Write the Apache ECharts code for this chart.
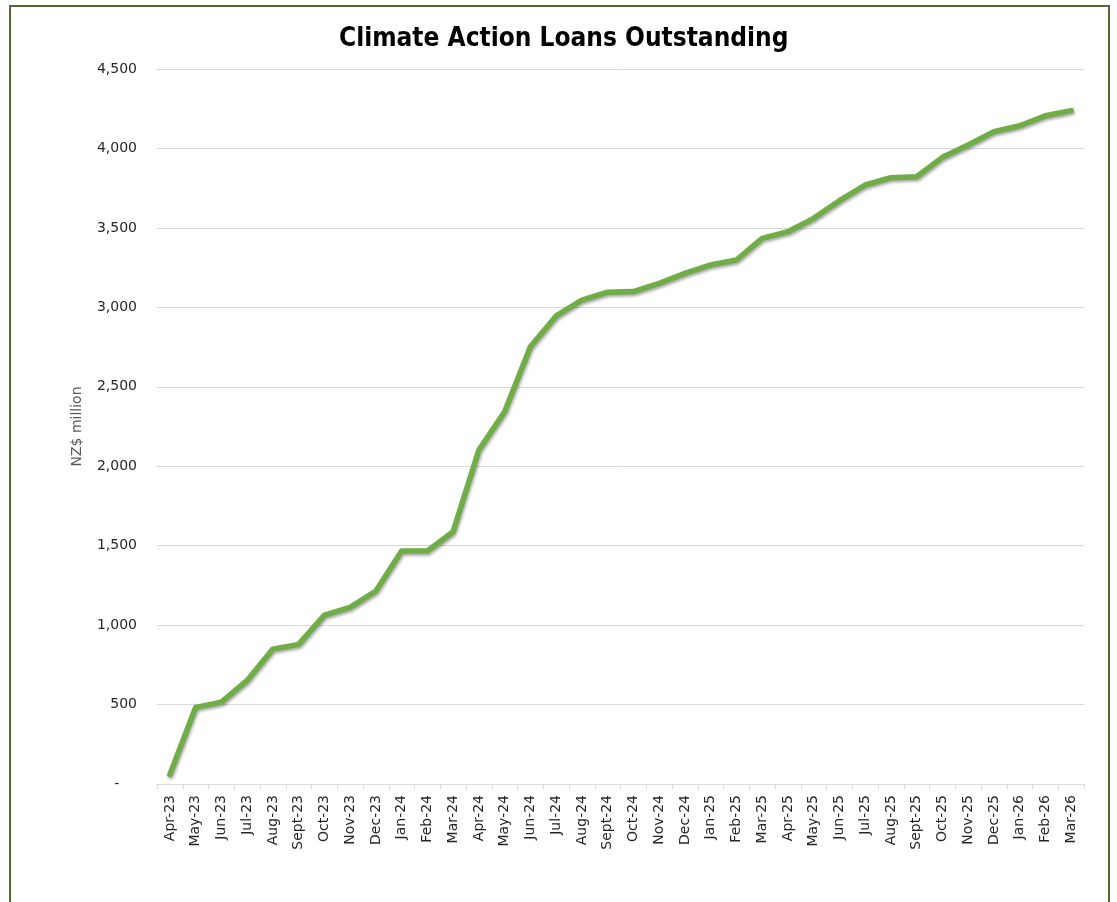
<!DOCTYPE html>
<html>
<head>
<meta charset="utf-8">
<script src="https://cdn.jsdelivr.net/npm/echarts@6/dist/echarts.min.js"></script>
<style>
  html, body { margin: 0; padding: 0; background: #ffffff; }
  #frame { position: absolute; left: 9px; top: 5px; width: 1101px; height: 910px;
           border-left: 2px solid #4f6b2f; border-top: 2px solid #4f6b2f; border-right: 2px solid #4f6b2f; box-sizing: border-box; }
  #chart { position: absolute; left: 0; top: 0; width: 1117px; height: 902px; }
</style>
</head>
<body>
<div id="frame"></div>
<div id="chart"></div>
<script>
const categories = ["Apr-23","May-23","Jun-23","Jul-23","Aug-23","Sept-23","Oct-23","Nov-23","Dec-23",
  "Jan-24","Feb-24","Mar-24","Apr-24","May-24","Jun-24","Jul-24","Aug-24","Sept-24","Oct-24","Nov-24","Dec-24",
  "Jan-25","Feb-25","Mar-25","Apr-25","May-25","Jun-25","Jul-25","Aug-25","Sept-25","Oct-25","Nov-25","Dec-25",
  "Jan-26","Feb-26","Mar-26"];
const loansOutstanding = [60, 482, 515, 652, 849, 879, 1063, 1112, 1215,
  1466, 1466, 1588, 2102, 2343, 2752, 2946, 3046, 3095, 3099, 3151, 3214,
  3267, 3298, 3434, 3476, 3560, 3671, 3770, 3816, 3822, 3944, 4022, 4106,
  4143, 4206, 4238];
const yTicks = { min: 0, max: 4500, interval: 500 };
const titleText = "Climate Action Loans Outstanding";
const yAxisName = "NZ$ million";

const chart = echarts.init(document.getElementById('chart'), null, { renderer: 'canvas' });
chart.setOption({
  animation: false,
  backgroundColor: 'transparent',
  title: {
    text: titleText,
    left: 334,
    top: 21,
    textStyle: { fontFamily: 'DejaVu Sans Condensed', fontWeight: 'bold', fontSize: 26, color: '#000000' }
  },
  grid: { left: 157, right: 33, top: 69, bottom: 118 },
  xAxis: {
    type: 'category',
    data: categories,
    boundaryGap: true,
    axisLine: { show: true, lineStyle: { color: '#d9d9d9', width: 1 } },
    axisTick: { show: true, alignWithLabel: false, length: 5, lineStyle: { color: '#d9d9d9' } },
    axisLabel: { rotate: 90, margin: 11, fontFamily: 'DejaVu Sans', fontSize: 14, color: '#262626', interval: 0 },
    splitLine: { show: false }
  },
  yAxis: {
    type: 'value',
    min: yTicks.min, max: yTicks.max, interval: yTicks.interval,
    name: yAxisName,
    nameLocation: 'middle',
    nameGap: 73,
    nameRotate: 90,
    nameTextStyle: { fontFamily: 'DejaVu Sans', fontSize: 14, color: '#595959' },
    axisLine: { show: false },
    axisTick: { show: false },
    axisLabel: {
      margin: 20, fontFamily: 'DejaVu Sans', fontSize: 14, color: '#262626',
      formatter: v => v === 0 ? '-    ' : v.toLocaleString('en-US')
    },
    splitLine: { lineStyle: { color: '#d9d9d9', width: 1 } }
  },
  series: [{
    type: 'line',
    data: loansOutstanding,
    symbol: 'none',
    smooth: false,
    lineStyle: { color: '#70ad47', width: 5.5, cap: 'round', join: 'round',
      shadowColor: 'rgba(0,0,0,0.35)', shadowBlur: 3, shadowOffsetX: 1, shadowOffsetY: 2 },
    itemStyle: { color: '#70ad47' }
  }]
});
</script>
</body>
</html>
